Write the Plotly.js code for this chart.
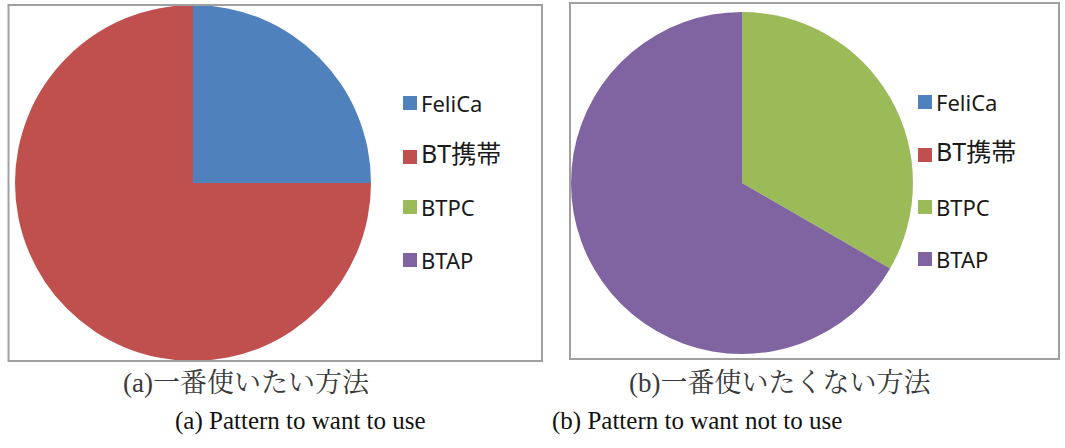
<!DOCTYPE html>
<html>
<head>
<meta charset="utf-8">
<script src="https://cdn.plot.ly/plotly-3.0.1.min.js"></script>
<style>html,body{margin:0;padding:0;background:#fff;}#chart{width:1065px;height:448px;}</style>
</head>
<body>
<div id="chart"></div>
<script>
const categories = ["FeliCa", "BT携帯", "BTPC", "BTAP"];
const colors = ["#4F81BD", "#C0504D", "#9BBB59", "#8064A2"];
const valuesWant = [1, 3, 0, 0];
const valuesNotWant = [0, 0, 1, 2];
const captionsJa = ["(a)一番使いたい方法", "(b)一番使いたくない方法"];
const captionsEn = ["(a) Pattern to want to use", "(b) Pattern to want not to use"];

const W = 1065, H = 448;
const px = x => x / W;
const py = y => 1 - y / H;

const pieBase = {
  type: "pie",
  labels: categories,
  marker: {colors: colors, line: {width: 0}},
  sort: false,
  direction: "clockwise",
  rotation: 0,
  textinfo: "none",
  hoverinfo: "label+value",
  showlegend: false
};

const data = [
  Object.assign({}, pieBase, {values: valuesWant,
    domain: {x: [px(15), px(371)], y: [py(361), py(5)]}}),
  Object.assign({}, pieBase, {values: valuesNotWant,
    domain: {x: [px(571), px(913)], y: [py(354), py(12)]}})
];

const shapes = [
  {type: "rect", xref: "paper", yref: "paper", x0: px(8.5), x1: px(542), y0: py(361), y1: py(5),
   line: {color: "#a0a0a0", width: 2}},
  {type: "rect", xref: "paper", yref: "paper", x0: px(570), x1: px(1059), y0: py(359), y1: py(3),
   line: {color: "#a0a0a0", width: 2}}
];
const annotations = [];

const legendX = [403, 918];
const legendY = [[103, 153, 207, 260], [102, 151, 207, 259]];
for (let c = 0; c < 2; c++) {
  categories.forEach((cat, i) => {
    const yc = legendY[c][i];
    const yoff = i === 1 ? 4 : 0;
    shapes.push({type: "rect", xref: "paper", yref: "paper",
      x0: px(legendX[c]), x1: px(legendX[c] + 14), y0: py(yc + 7 + yoff), y1: py(yc - 7 + yoff),
      fillcolor: colors[i], line: {width: 0}});
    annotations.push({xref: "paper", yref: "paper", x: px(legendX[c] + 16), y: py(yc),
      xanchor: "left", yanchor: "middle", showarrow: false, text: cat,
      font: {family: "Noto Sans, Noto Sans CJK JP, sans-serif", size: i === 1 ? 25 : 22, color: "#1a1a1a"}});
  });
}

const capJaX = [246, 780];
const capEnX = [300, 697];
for (let c = 0; c < 2; c++) {
  annotations.push({xref: "paper", yref: "paper", x: px(capJaX[c]), y: py(383),
    xanchor: "center", yanchor: "middle", showarrow: false, text: captionsJa[c],
    font: {family: "Liberation Serif, Noto Serif CJK JP, Noto Sans CJK JP, serif", size: 27, color: "#3a3a3a"}});
  annotations.push({xref: "paper", yref: "paper", x: px(capEnX[c]), y: py(421),
    xanchor: "center", yanchor: "middle", showarrow: false, text: captionsEn[c],
    font: {family: "Liberation Serif, serif", size: 25, color: "#111"}});
}

const layout = {
  width: W, height: H,
  margin: {l: 0, r: 0, t: 0, b: 0},
  paper_bgcolor: "#fff",
  plot_bgcolor: "#fff",
  showlegend: false,
  shapes: shapes,
  annotations: annotations
};

Plotly.newPlot("chart", data, layout, {displayModeBar: false, staticPlot: true});
</script>
</body>
</html>
